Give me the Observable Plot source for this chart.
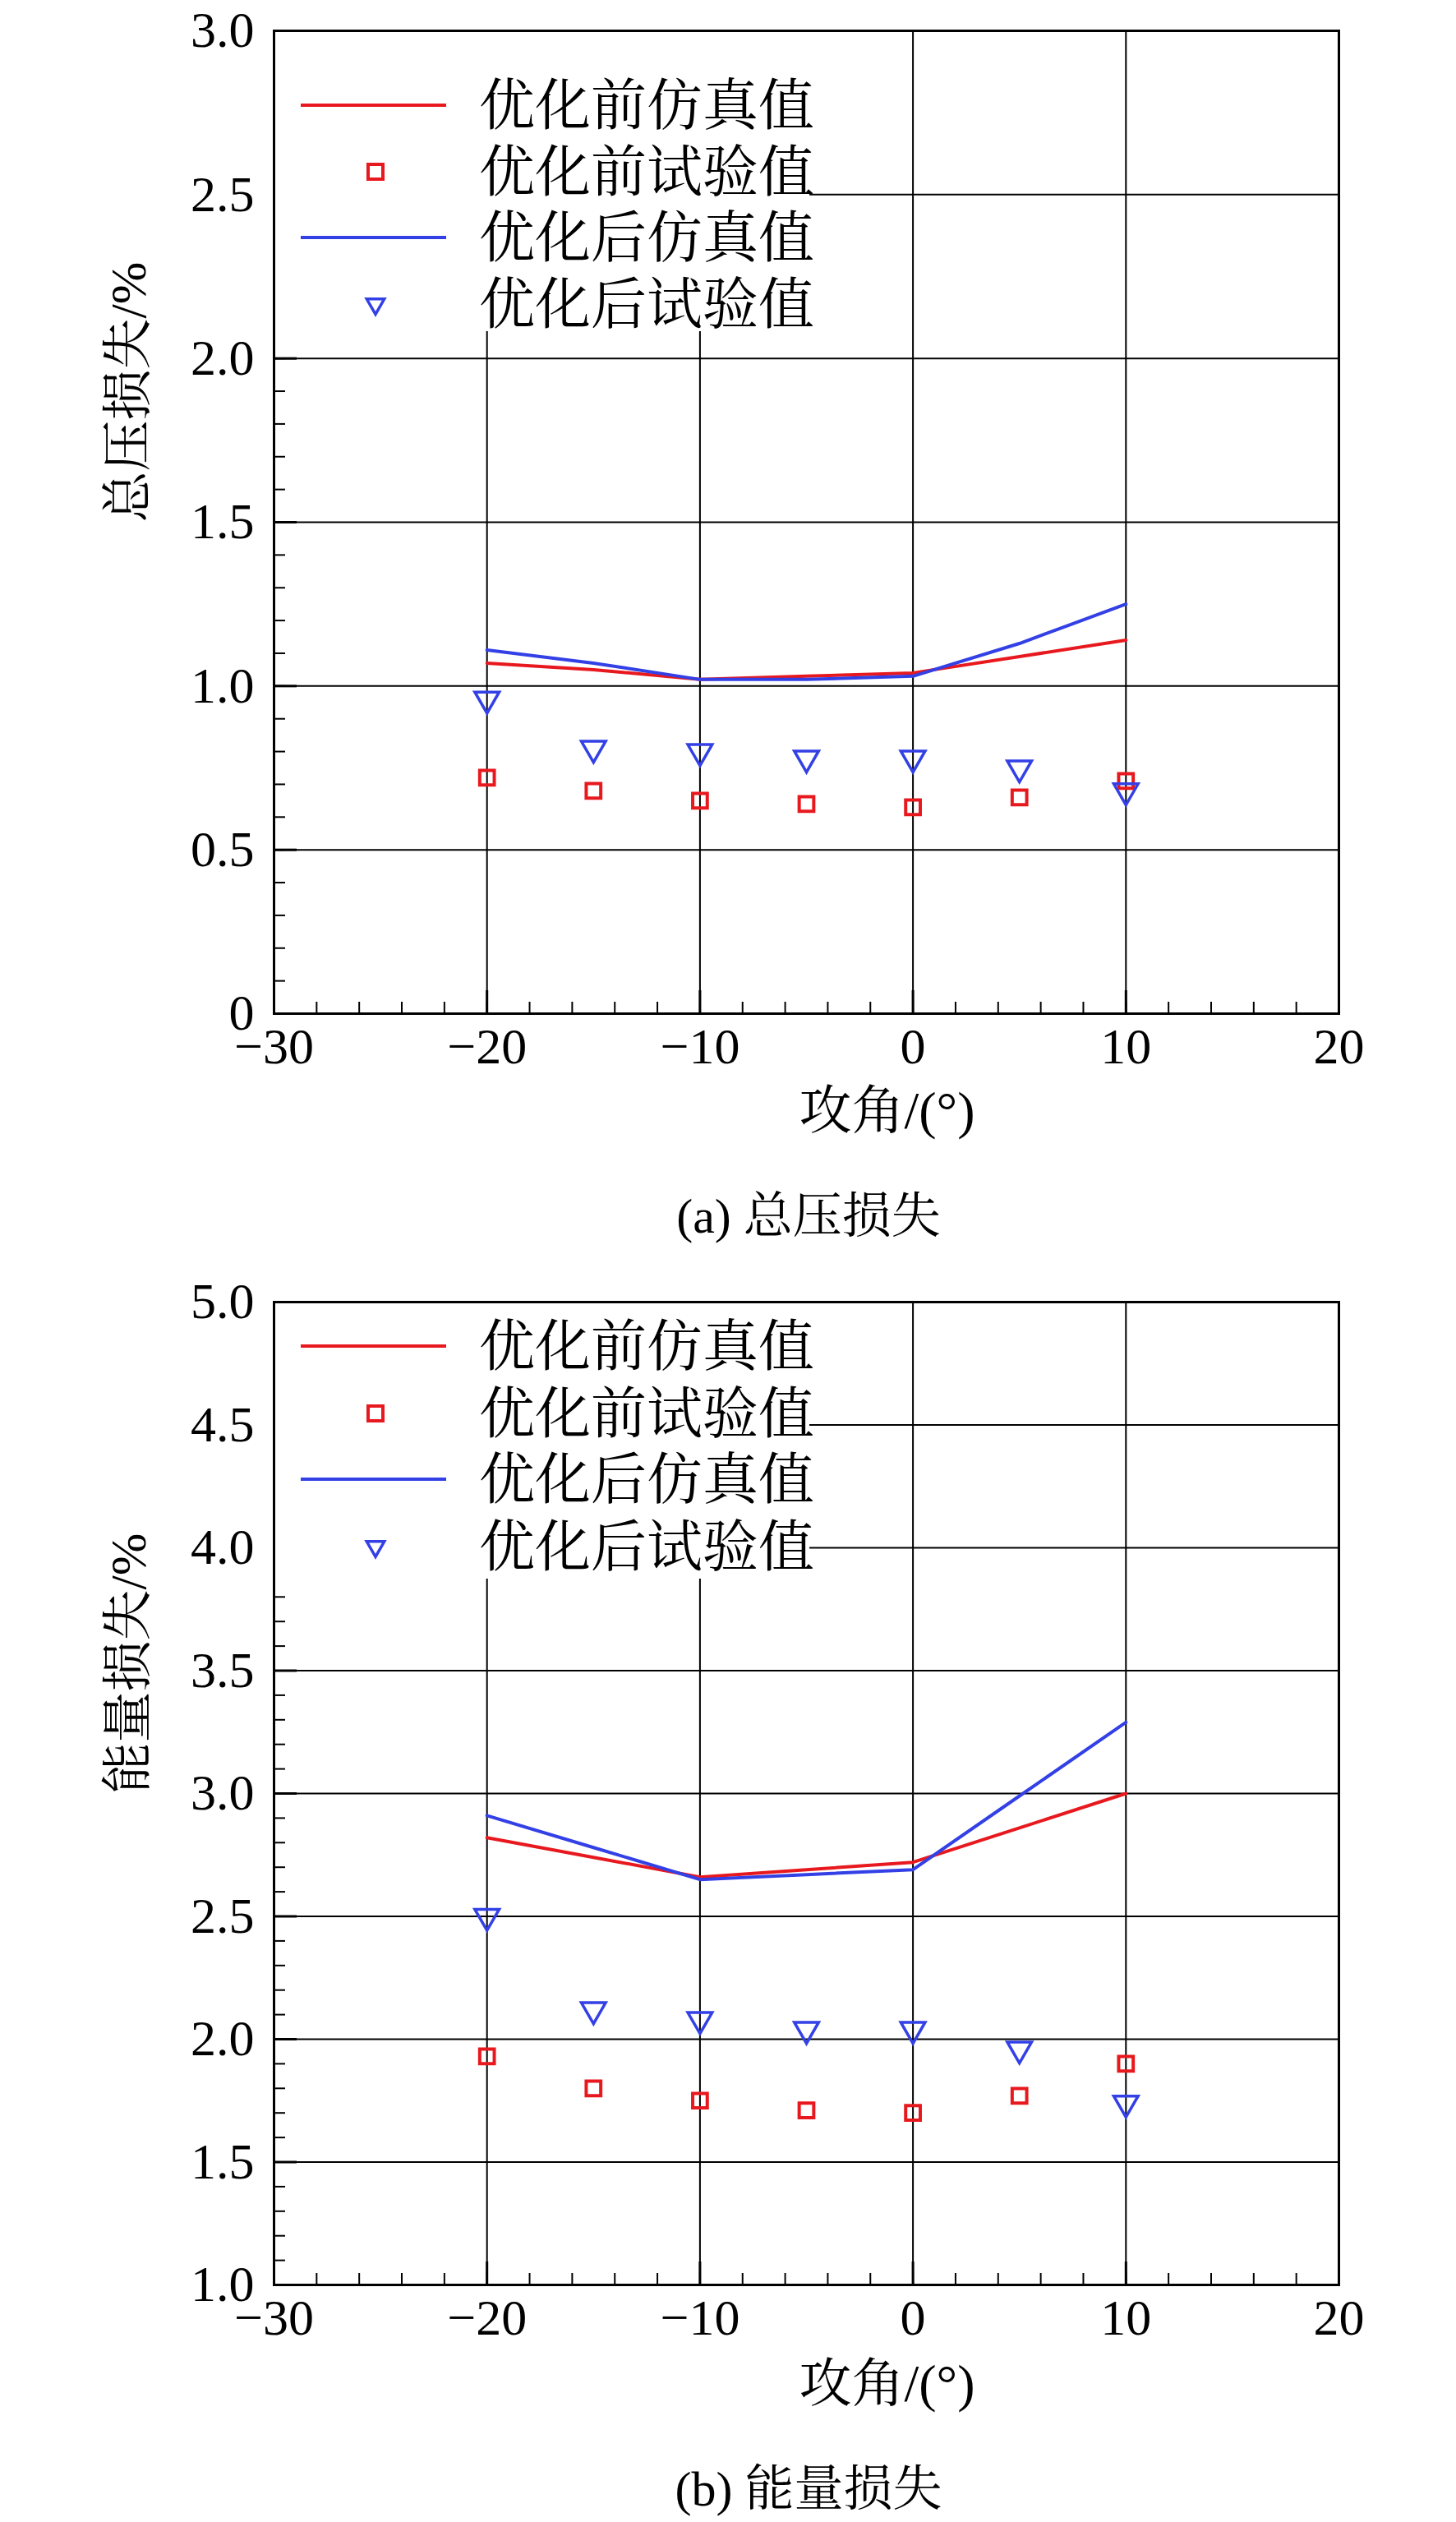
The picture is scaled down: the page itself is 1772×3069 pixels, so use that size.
<!DOCTYPE html>
<html><head><meta charset="utf-8">
<script src="https://cdn.jsdelivr.net/npm/d3@7"></script>
<script src="https://cdn.jsdelivr.net/npm/@observablehq/plot@0.6"></script>
<style>
body{margin:0;background:#fff;width:1772px;height:3069px;position:relative;overflow:hidden}
.box{position:absolute;left:0}
.cap{position:absolute;left:0;width:1772px;text-align:center;font-family:"Liberation Serif","Noto Serif CJK SC","Noto Sans CJK SC",serif;font-size:60px;line-height:1}
</style></head><body>
<div id="c1" class="box" style="top:0"></div>
<div class="cap" style="top:1450px;left:98px">(a) 总压损失</div>
<div id="c2" class="box" style="top:1540px"></div>
<div class="cap" style="top:2999px;left:98px">(b) 能量损失</div>
<script>
const angles = [-20, -15, -10, -5, 0, 5, 10];
const seriesNames = ["优化前仿真值", "优化前试验值", "优化后仿真值", "优化后试验值"];
// (a) total pressure loss
const a_preSim = [1.07, 1.05, 1.02, 1.03, 1.04, 1.09, 1.14];
const a_preExp = [0.72, 0.68, 0.65, 0.64, 0.63, 0.66, 0.71];
const a_postSim = [1.11, 1.07, 1.02, 1.02, 1.03, 1.13, 1.25];
const a_postExp = [0.96, 0.81, 0.80, 0.78, 0.78, 0.75, 0.68];
// (b) energy loss
const b_preSim = [2.82, 2.74, 2.66, 2.69, 2.72, 2.86, 3.00];
const b_preExp = [1.93, 1.80, 1.75, 1.71, 1.70, 1.77, 1.90];
const b_postSim = [2.91, 2.78, 2.65, 2.67, 2.69, 2.99, 3.29];
const b_postExp = [2.50, 2.12, 2.08, 2.04, 2.04, 1.96, 1.74];
const xTicks = [-30, -20, -10, 0, 10, 20];
const xGrid = [-20, -10, 0, 10];
const aYTicks = [0, 0.5, 1.0, 1.5, 2.0, 2.5, 3.0];
const bYTicks = [1.0, 1.5, 2.0, 2.5, 3.0, 3.5, 4.0, 4.5, 5.0];

const RED = "#e8191e", BLUE = "#3340e6";
const FONT = "'Liberation Serif', 'Noto Serif CJK SC', 'Noto Sans CJK SC', serif";

function chart(opt) {
  const W = 1772, H = 1420, mL = 333, mR = 143;
  const fw = W - mL - mR, fh = H - opt.mt - opt.mb;
  const [y0, y1] = opt.ydom;
  const minorY = d3.range(Math.round(y0 * 10), Math.round(y1 * 10) + 1).map(v => v / 10);
  const minorX = d3.range(-30, 21, 2);
  const tab = k => angles.map((x, i) => ({x, y: opt[k][i]}));
  const p = Plot.plot({
    width: W, height: H, marginLeft: mL, marginRight: mR, marginTop: opt.mt, marginBottom: opt.mb,
    style: {fontFamily: FONT, fontSize: "62px", background: "#fff", color: "#000"},
    x: {domain: [-30, 20], axis: null, label: null},
    y: {domain: opt.ydom, axis: null, label: null},
    marks: [
      Plot.ruleX(xGrid, {stroke: "#000", strokeWidth: 2}),
      Plot.ruleY(opt.yticks.filter(v => v > y0 && v < y1), {stroke: "#000", strokeWidth: 2}),
      Plot.tickY(minorY, {y: d => d, stroke: "#000", strokeWidth: 2, insetRight: fw - 14}),
      Plot.tickY(opt.yticks, {y: d => d, stroke: "#000", strokeWidth: 3, insetRight: fw - 28}),
      Plot.tickX(minorX, {x: d => d, stroke: "#000", strokeWidth: 2, insetTop: fh - 14}),
      Plot.tickX(xTicks, {x: d => d, stroke: "#000", strokeWidth: 3, insetTop: fh - 28}),
      Plot.axisX(xTicks, {tickSize: 0, tickPadding: 16, label: null, tickFormat: d => d < 0 ? "\u2212" + (-d) : String(d), fontSize: 62}),
      Plot.axisY(opt.yticks, {tickSize: 0, tickPadding: 24, label: null, tickFormat: opt.yfmt, fontSize: 62}),
      Plot.line(tab("preSim"), {x: "x", y: "y", stroke: RED, strokeWidth: 4}),
      Plot.line(tab("postSim"), {x: "x", y: "y", stroke: BLUE, strokeWidth: 4}),
      Plot.dot(tab("preExp"), {x: "x", y: "y", symbol: "square", r: 10, stroke: RED, strokeWidth: 4, fill: "none"}),
      Plot.dot(tab("postExp"), {x: "x", y: "y", symbol: "triangle", rotate: 180, r: 11, stroke: BLUE, strokeWidth: 3.5, fill: "none"}),
      Plot.frame({stroke: "#000", strokeWidth: 3}),
      Plot.text(["攻角/(°)"], {text: d => d, frameAnchor: "bottom", dy: opt.xlabDy, dx: 98, fontSize: 64}),
      Plot.text([opt.ylabel], {text: d => d, frameAnchor: "left", dx: -176, rotate: -90, fontSize: 62})
    ]
  });
  const svg = d3.select(p);
  const g = svg.append("g").attr("transform", `translate(${mL},${opt.mt})`).attr("text-anchor", "start");
  g.append("rect").attr("x", 2).attr("y", 2).attr("width", 650).attr("height", opt.legH).attr("fill", "#fff");
  seriesNames.forEach((name, i) => {
    const y = opt.legRows[i];
    const col = i < 2 ? RED : BLUE;
    if (i % 2 === 0) {
      g.append("line").attr("x1", 33).attr("x2", 210).attr("y1", y).attr("y2", y).attr("stroke", col).attr("stroke-width", 4);
    } else if (i === 1) {
      g.append("rect").attr("x", 115).attr("y", y - 9).attr("width", 18).attr("height", 18).attr("fill", "none").attr("stroke", col).attr("stroke-width", 4);
    } else {
      g.append("path").attr("d", d3.symbol(d3.symbolTriangle, 200)()).attr("transform", `translate(124,${y}) rotate(180)`).attr("fill", "none").attr("stroke", col).attr("stroke-width", 3.5);
    }
    g.append("text").attr("x", 250).attr("y", y).attr("dy", "0.35em").attr("text-anchor", "start").attr("font-size", 68).attr("font-family", FONT).text(name);
  });
  return p;
}

document.getElementById("c1").append(chart({
  mt: 37, mb: 187, ydom: [0, 3], yticks: aYTicks, yfmt: d => d === 0 ? "0" : d.toFixed(1),
  ylabel: "总压损失/%", xlabDy: 139, legH: 364, legRows: [91, 172, 252, 333],
  preSim: a_preSim, preExp: a_preExp, postSim: a_postSim, postExp: a_postExp
}));
document.getElementById("c2").append(chart({
  mt: 44, mb: 180, ydom: [1, 5], yticks: bYTicks, yfmt: d => d.toFixed(1),
  ylabel: "能量损失/%", xlabDy: 141, legH: 335, legRows: [54, 136, 216, 298],
  preSim: b_preSim, preExp: b_preExp, postSim: b_postSim, postExp: b_postExp
}));
</script>
</body></html>
